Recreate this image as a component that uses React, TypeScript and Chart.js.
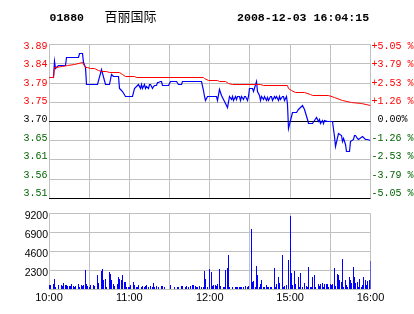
import React, { useEffect, useRef } from 'react';
import { Chart, registerables } from 'chart.js';

Chart.register(...registerables);

// ---------------- data ----------------
const STOCK_CODE = '01880';
const STOCK_NAME = '百丽国际';
const TIMESTAMP = '2008-12-03 16:04:15';
const PREV_CLOSE = 3.7;
const PCT_RANGE = 5.05;
const VOL_MAX = 9200;

const gridMinutes = [0, 30, 60, 90, 120, 150, 180, 210, 240];
const timeTickMinutes = [0, 60, 120, 180, 240];
const timeTickLabels = ['10:00', '11:00', '12:00', '15:00', '16:00'];
const volTickValues = [0, 2300, 4600, 6900, 9200];

const priceMinutes = [
  0, 3, 4, 5, 6, 7, 12, 13, 22, 23, 25, 26, 27, 28, 36, 39, 42, 45, 47, 48,
  52, 53, 54, 55, 57, 62, 64, 66, 67, 68, 69, 70, 71, 72, 73, 74, 75, 76, 77, 78,
  79, 80, 81, 82, 83, 84, 85, 89, 91, 95, 97, 99, 100, 114, 115, 116, 117, 118, 125, 126,
  127, 129, 131, 133, 135, 136, 137, 138, 139, 140, 141, 142, 143, 144, 145, 146, 147, 148, 149, 150,
  152, 153, 155, 156, 157, 158, 159, 160, 161, 162, 163, 164, 165, 166, 167, 168, 169, 170, 171, 172,
  173, 174, 175, 176, 177, 178, 179, 181, 182, 184, 185, 186, 188, 189, 190, 191, 193, 194, 197, 198,
  200, 201, 202, 203, 204, 205, 206, 208, 212, 213, 214, 216, 218, 219, 220, 221, 222, 224, 225, 227,
  228, 229, 230, 231, 234, 236, 238, 240,
];
const prices = [
  3.807, 3.807, 3.845, 3.828, 3.833, 3.835, 3.835, 3.856, 3.856, 3.865, 3.865, 3.844, 3.831, 3.789, 3.789, 3.826, 3.789, 3.789, 3.814, 3.808,
  3.808, 3.779, 3.775, 3.772, 3.760, 3.760, 3.779, 3.787, 3.789, 3.779, 3.789, 3.781, 3.789, 3.779, 3.786, 3.779, 3.789, 3.789, 3.779, 3.784,
  3.787, 3.787, 3.795, 3.795, 3.797, 3.797, 3.787, 3.787, 3.797, 3.797, 3.789, 3.789, 3.797, 3.797, 3.775, 3.760, 3.750, 3.761, 3.761, 3.752,
  3.778, 3.763, 3.749, 3.733, 3.760, 3.754, 3.760, 3.752, 3.760, 3.754, 3.760, 3.760, 3.752, 3.760, 3.754, 3.760, 3.760, 3.752, 3.760, 3.779,
  3.779, 3.772, 3.797, 3.772, 3.764, 3.751, 3.760, 3.754, 3.760, 3.751, 3.758, 3.752, 3.760, 3.760, 3.752, 3.760, 3.756, 3.760, 3.751, 3.760,
  3.754, 3.760, 3.760, 3.752, 3.760, 3.742, 3.682, 3.713, 3.721, 3.723, 3.723, 3.729, 3.734, 3.740, 3.734, 3.729, 3.705, 3.694, 3.694, 3.703,
  3.709, 3.700, 3.705, 3.694, 3.703, 3.694, 3.702, 3.700, 3.700, 3.663, 3.639, 3.672, 3.667, 3.651, 3.659, 3.644, 3.628, 3.628, 3.651, 3.656,
  3.667, 3.667, 3.659, 3.656, 3.664, 3.656, 3.656, 3.655,
];

const avgMinutes = [
  0, 3, 4, 10, 14, 19, 25, 27, 29, 31, 34, 37, 39, 43, 45, 53, 55, 57, 64, 65,
  115, 116, 119, 126, 127, 132, 134, 137, 158, 160, 178, 179, 181, 184, 191, 195, 197, 209, 213, 219,
  226, 233, 240,
];
const avgPrices = [
  3.807, 3.807, 3.832, 3.834, 3.835, 3.839, 3.842, 3.832, 3.830, 3.828, 3.828, 3.824, 3.821, 3.821, 3.818, 3.818, 3.814, 3.810, 3.810, 3.807,
  3.807, 3.804, 3.799, 3.799, 3.796, 3.796, 3.791, 3.789, 3.789, 3.787, 3.787, 3.779, 3.775, 3.770, 3.770, 3.766, 3.764, 3.764, 3.759, 3.752,
  3.747, 3.743, 3.739,
];

const volMinutes = [
  0, 1, 3, 4, 5, 7, 9, 10, 11, 12, 13, 14, 15, 16, 17, 18, 19, 20, 22, 23,
  24, 25, 26, 27, 28, 29, 30, 31, 33, 34, 36, 37, 39, 40, 41, 42, 43, 45, 46, 47,
  48, 49, 51, 52, 53, 54, 55, 56, 57, 58, 59, 60, 61, 63, 64, 65, 66, 67, 69, 70,
  71, 72, 73, 74, 76, 77, 78, 79, 80, 82, 84, 85, 86, 91, 94, 96, 97, 99, 100, 102,
  103, 104, 106, 107, 108, 109, 110, 111, 112, 114, 115, 116, 117, 118, 120, 121, 122, 123, 124, 125,
  126, 127, 128, 130, 131, 132, 133, 134, 135, 137, 139, 140, 141, 142, 143, 144, 145, 147, 148, 149,
  151, 152, 153, 154, 155, 156, 157, 158, 159, 160, 161, 162, 163, 164, 165, 166, 168, 169, 170, 171,
  172, 174, 175, 176, 177, 179, 180, 181, 182, 183, 184, 186, 187, 188, 189, 191, 192, 193, 194, 195,
  196, 197, 198, 199, 201, 202, 203, 204, 205, 206, 207, 208, 209, 210, 211, 212, 213, 214, 215, 216,
  217, 218, 219, 220, 221, 222, 223, 224, 225, 226, 227, 228, 229, 230, 231, 232, 233, 234, 235, 236,
  237, 238, 239, 240,
];
const volumes = [
  500, 500, 650, 1190, 270, 500, 500, 345, 730, 460, 460, 380, 380, 420, 610, 380, 270, 310, 610, 270,
  460, 380, 500, 2340, 610, 345, 270, 460, 460, 380, 1650, 730, 2220, 2450, 1150, 1260, 270, 2100, 1880, 1070,
  650, 310, 610, 1420, 1260, 1070, 1650, 800, 880, 270, 270, 270, 500, 840, 460, 270, 270, 460, 270, 420,
  270, 310, 460, 270, 420, 270, 730, 270, 420, 270, 380, 310, 270, 500, 270, 270, 270, 380, 380, 270,
  380, 270, 380, 500, 500, 380, 270, 270, 380, 270, 270, 2220, 1190, 270, 2450, 2100, 380, 500, 500, 380,
  650, 2490, 380, 270, 270, 2260, 2570, 4100, 270, 270, 270, 270, 270, 270, 270, 270, 270, 380, 270, 380,
  7280, 800, 960, 270, 2800, 1650, 270, 575, 1150, 270, 270, 500, 270, 270, 270, 270, 2570, 270, 575, 1420,
  770, 4180, 270, 380, 500, 3560, 8890, 2000, 500, 2190, 650, 1420, 270, 2000, 270, 730, 380, 270, 2680, 270,
  270, 1490, 1650, 270, 650, 380, 650, 730, 270, 575, 575, 575, 270, 650, 500, 575, 2570, 380, 1800, 1650,
  1150, 840, 3600, 270, 1070, 500, 270, 1500, 1110, 730, 2680, 1500, 770, 880, 270, 1190, 270, 500, 1500, 1150,
  500, 960, 1070, 3370,
];

// ---------------- styling ----------------
const GRID_GRAY = '#c0c0c0';
const UP_RED = '#ff0000';
const DOWN_GREEN = '#006400';
const LINE_BLUE = '#0000ff';
const MONO = "'Liberation Mono', 'DejaVu Sans Mono', monospace";
const SANS = "'Liberation Sans', Arial, sans-serif";
// label axes span slightly wider than the grid so text sits where the original drew it
const LABEL_AXIS_MIN = 3.5014;
const LABEL_AXIS_MAX = 3.8903;

const priceMin = PREV_CLOSE * (1 - PCT_RANGE / 100);
const priceMax = PREV_CLOSE * (1 + PCT_RANGE / 100);
const priceLevels = Array.from({ length: 9 }, (_, i) => PREV_CLOSE * (1 + (PCT_RANGE / 100) * (i - 4) / 4));

const isClose = (v: number) => Math.abs(v - PREV_CLOSE) < 1e-6;
const levelColor = (v: number) => (isClose(v) ? '#000000' : v > PREV_CLOSE ? UP_RED : DOWN_GREEN);

const snapPlugin = {
  id: 'snapPixels',
  beforeDatasetsDraw(chart: any) {
    chart.data.datasets.forEach((_: any, i: number) => {
      const meta = chart.getDatasetMeta(i);
      meta.data.forEach((el: any) => {
        el.x = Math.floor(el.x) + 0.5;
        if (meta.type === 'line') {
          el.y = Math.floor(el.y) + 0.5;
        } else {
          el.y = Math.round(el.y);
          el.base = Math.round(el.base);
        }
      });
    });
  },
};

const zip = (xs: number[], ys: number[]) => xs.map((x, i) => ({ x, y: ys[i] }));

export default function App() {
  const mainRef = useRef<HTMLCanvasElement>(null);
  const volRef = useRef<HTMLCanvasElement>(null);

  useEffect(() => {
    const main = new Chart(mainRef.current as HTMLCanvasElement, {
      type: 'line',
      data: {
        datasets: [
          {
            data: zip(avgMinutes, avgPrices),
            borderColor: UP_RED,
            borderWidth: 1,
            pointRadius: 0,
            tension: 0,
            fill: false,
            yAxisID: 'y',
          },
          {
            data: zip(priceMinutes, prices),
            borderColor: LINE_BLUE,
            borderWidth: 1.2,
            pointRadius: 0,
            tension: 0,
            fill: false,
            yAxisID: 'y',
          },
        ],
      },
      options: {
        animation: false,
        responsive: false,
        devicePixelRatio: 1,
        events: [],
        layout: { padding: { top: 44.5, bottom: 2.5, left: 0, right: 0 } },
        plugins: { legend: { display: false }, tooltip: { enabled: false } },
        scales: {
          x: {
            type: 'linear',
            min: 0,
            max: 240,
            offset: false,
            border: { display: false },
            grid: { color: GRID_GRAY, lineWidth: 1, drawTicks: false },
            ticks: { display: false },
            afterBuildTicks: (s: any) => {
              s.ticks = gridMinutes.map((v) => ({ value: v }));
            },
            afterFit: (s: any) => {
              s.height = 0;
            },
          },
          y: {
            type: 'linear',
            position: 'left',
            min: priceMin,
            max: priceMax,
            border: { display: false },
            grid: {
              lineWidth: 1,
              drawTicks: false,
              color: (ctx: any) => (ctx.index === 0 || isClose(ctx.tick.value) ? '#000000' : GRID_GRAY),
            },
            ticks: { display: false },
            afterBuildTicks: (s: any) => {
              s.ticks = priceLevels.map((v) => ({ value: v }));
            },
            afterFit: (s: any) => {
              s.width = 0;
            },
          },
          yl: {
            type: 'linear',
            position: 'left',
            min: LABEL_AXIS_MIN,
            max: LABEL_AXIS_MAX,
            border: { display: false },
            grid: { display: false, drawTicks: false },
            ticks: {
              autoSkip: false,
              padding: 1.5,
              font: { family: MONO, size: 10 },
              color: (ctx: any) => levelColor(ctx.tick.value),
              callback: (v: any) => Number(v).toFixed(2),
            },
            afterBuildTicks: (s: any) => {
              s.ticks = priceLevels.map((v) => ({ value: v }));
            },
            afterFit: (s: any) => {
              s.width = 49;
            },
          },
          yr: {
            type: 'linear',
            position: 'right',
            min: LABEL_AXIS_MIN,
            max: LABEL_AXIS_MAX,
            border: { display: false },
            grid: { display: false, drawTicks: false },
            ticks: {
              autoSkip: false,
              padding: 1,
              font: { family: MONO, size: 10 },
              color: (ctx: any) => levelColor(ctx.tick.value),
              callback: (v: any) => {
                const pct = (Number(v) / PREV_CLOSE - 1) * 100;
                const abs = Math.round(Math.abs(pct) * 100 + 1e-6) / 100;
                if (abs === 0) return ' 0.00%';
                return (pct > 0 ? '+' : '-') + abs.toFixed(2) + ' %';
              },
            },
            afterBuildTicks: (s: any) => {
              s.ticks = priceLevels.map((v) => ({ value: v }));
            },
            afterFit: (s: any) => {
              s.width = 43.5;
            },
          },
        },
      } as any,
      plugins: [snapPlugin],
    });

    const vol = new Chart(volRef.current as HTMLCanvasElement, {
      type: 'bar',
      data: {
        datasets: [
          {
            data: zip(volMinutes, volumes) as any,
            backgroundColor: LINE_BLUE,
            borderWidth: 0,
            barThickness: 1,
            inflateAmount: 0,
          } as any,
        ],
      },
      options: {
        animation: false,
        responsive: false,
        devicePixelRatio: 1,
        events: [],
        layout: { padding: { top: 3.5, bottom: 0, left: 0, right: 43.5 } },
        plugins: { legend: { display: false }, tooltip: { enabled: false } },
        scales: {
          x: {
            type: 'linear',
            min: 0,
            max: 240,
            offset: false,
            border: { display: false },
            grid: { color: GRID_GRAY, lineWidth: 1, drawTicks: false, offset: false },
            ticks: {
              autoSkip: false,
              maxRotation: 0,
              minRotation: 0,
              padding: 2.5,
              color: '#000000',
              font: { family: SANS, size: 11 },
              callback: (v: any) => {
                const i = timeTickMinutes.indexOf(Number(v));
                return i >= 0 ? timeTickLabels[i] : '';
              },
            },
            afterBuildTicks: (s: any) => {
              s.ticks = gridMinutes.map((v) => ({ value: v }));
            },
            afterFit: (s: any) => {
              s.height = 25;
            },
          },
          y: {
            type: 'linear',
            position: 'left',
            min: 0,
            max: VOL_MAX,
            border: { display: false },
            grid: { color: GRID_GRAY, lineWidth: 1, drawTicks: false },
            ticks: {
              autoSkip: false,
              padding: 1,
              labelOffset: 3,
              color: '#000000',
              font: { family: SANS, size: 10.5 },
              callback: (v: any) => (Number(v) === 0 ? '' : String(v)),
            },
            afterBuildTicks: (s: any) => {
              s.ticks = volTickValues.map((v) => ({ value: v }));
            },
            afterFit: (s: any) => {
              s.width = 49;
            },
          },
        },
      } as any,
      plugins: [snapPlugin],
    });

    return () => {
      main.destroy();
      vol.destroy();
    };
  }, []);

  return (
    <div
      style={{
        position: 'absolute',
        left: 0,
        top: 0,
        width: 414,
        height: 314,
        background: '#ffffff',
        overflow: 'hidden',
      }}
    >
      <canvas
        ref={mainRef}
        width={414}
        height={206}
        style={{ position: 'absolute', left: 0, top: 0, width: 414, height: 206 }}
      />
      <canvas
        ref={volRef}
        width={414}
        height={108}
        style={{ position: 'absolute', left: 0, top: 206, width: 414, height: 108 }}
      />
      <span
        style={{
          position: 'absolute',
          left: 49.5,
          top: 12,
          font: `bold 11.5px/11.5px ${MONO}`,
          color: '#000',
          whiteSpace: 'nowrap',
        }}
      >
        {STOCK_CODE}
      </span>
      <span
        style={{
          position: 'absolute',
          left: 104.5,
          top: 9,
          font: "13px/13px 'Noto Sans CJK SC', sans-serif",
          color: '#000',
          whiteSpace: 'nowrap',
        }}
      >
        {STOCK_NAME}
      </span>
      <span
        style={{
          position: 'absolute',
          left: 237,
          top: 12,
          font: `bold 11.6px/11.6px ${MONO}`,
          color: '#000',
          whiteSpace: 'nowrap',
        }}
      >
        {TIMESTAMP}
      </span>
    </div>
  );
}
